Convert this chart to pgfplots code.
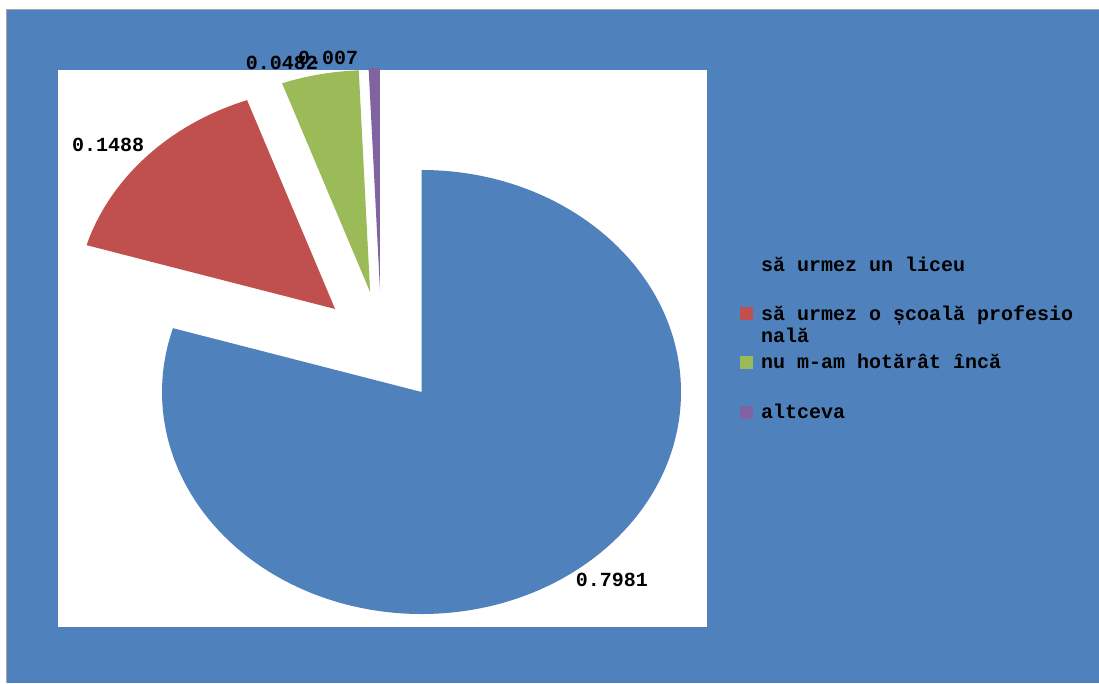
\documentclass[border=0pt]{standalone}
\usepackage{pgfplots}
\pgfplotsset{compat=1.18}
\usepackage{pgfplotstable}
\usepackage{fontspec}
\newfontfamily\chartfont{Liberation Mono}
\definecolor{pie0}{HTML}{4F81BD}
\definecolor{pie1}{HTML}{C0504D}
\definecolor{pie2}{HTML}{9BBB59}
\definecolor{pie3}{HTML}{8064A2}
\definecolor{chartbg}{HTML}{4F81BD}
\newcommand\lblfont{\chartfont\bfseries\fontsize{20}{22}\selectfont}

% value, explode offset (dx,dy) and label position, in axis units
\pgfplotstableread{
value  dx     dy    lx     ly
0.7981 0      0     0.734  -0.847
0.1488 -0.333 0.374 -1.208 1.113
0.0482 -0.198 0.450 -0.538 1.482
0.007  -0.160 0.459 -0.360 1.505
}\piedata

\newcommand\pv[2]{\csname pie#1#2\endcsname}
\def\pietotal{0}
\pgfplotsforeachungrouped \i in {0,...,3}{%
  \pgfplotstablegetelem{\i}{value}\of\piedata
  \pgfmathsetmacro\pietotal{\pietotal+\pgfplotsretval}%
}
\def\pieang{90}
\pgfplotsforeachungrouped \i in {0,...,3}{%
  \pgfplotstablegetelem{\i}{value}\of\piedata
  \expandafter\xdef\csname pieval\i\endcsname{\pgfplotsretval}%
  \pgfmathsetmacro\pienext{\pieang-360*\pgfplotsretval/\pietotal}%
  \expandafter\xdef\csname piesa\i\endcsname{\pieang}%
  \expandafter\xdef\csname pieea\i\endcsname{\pienext}%
  \let\pieang\pienext
  \pgfplotstablegetelem{\i}{dx}\of\piedata
  \expandafter\xdef\csname piedx\i\endcsname{\pgfplotsretval}%
  \pgfplotstablegetelem{\i}{dy}\of\piedata
  \expandafter\xdef\csname piedy\i\endcsname{\pgfplotsretval}%
  \pgfplotstablegetelem{\i}{lx}\of\piedata
  \expandafter\xdef\csname pielx\i\endcsname{\pgfplotsretval}%
  \pgfplotstablegetelem{\i}{ly}\of\piedata
  \expandafter\xdef\csname piely\i\endcsname{\pgfplotsretval}%
  \pgfmathsetmacro\tmp{\csname piedx\i\endcsname+cos(\csname piesa\i\endcsname)}%
  \expandafter\xdef\csname piesx\i\endcsname{\tmp}%
  \pgfmathsetmacro\tmp{\csname piedy\i\endcsname+sin(\csname piesa\i\endcsname)}%
  \expandafter\xdef\csname piesy\i\endcsname{\tmp}%
}

\begin{document}
\begin{tikzpicture}[x=1pt,y=1pt]
\fill[white] (0,0) rectangle (1099,683);
\fill[chartbg] (7,0) rectangle (1099,673);
\draw[gray!70, line width=1pt] (6.5,0) -- (6.5,673.5) -- (1099,673.5);
\fill[white] (58,56) rectangle (707,613);

\begin{axis}[
  at={(58pt,56pt)}, anchor=south west,
  width=649pt, height=557pt, scale only axis,
  xmin=-1.4008, xmax=1.1002, ymin=-1.0586, ymax=1.4505,
  hide axis, clip=false]
\pgfplotsinvokeforeach{0,...,3}{
  \fill[pie#1] (axis cs:\pv{dx}{#1},\pv{dy}{#1})
    -- (axis cs:\pv{sx}{#1},\pv{sy}{#1})
    arc[start angle=\pv{sa}{#1}, end angle=\pv{ea}{#1},
        x radius=259.5pt, y radius=222pt] -- cycle;
}
\pgfplotsinvokeforeach{0,...,3}{
  \node[font=\lblfont, inner sep=0pt] at (axis cs:\pv{lx}{#1},\pv{ly}{#1}) {\pv{val}{#1}};
}
\end{axis}

% legend
\fill[pie0] (740,410) rectangle (753,423);
\fill[pie1] (740,363) rectangle (753,376);
\fill[pie2] (740,314) rectangle (753,327);
\fill[pie3] (740,264) rectangle (753,277);
\node[anchor=base west, inner sep=0pt, font=\lblfont] at (761,411) {să urmez un liceu};
\node[anchor=base west, inner sep=0pt, font=\lblfont] at (761,362) {să urmez o școală profesio};
\node[anchor=base west, inner sep=0pt, font=\lblfont] at (761,340) {nală};
\node[anchor=base west, inner sep=0pt, font=\lblfont] at (761,314) {nu m-am hotărât încă};
\node[anchor=base west, inner sep=0pt, font=\lblfont] at (761,265) {altceva};

\pgfresetboundingbox
\useasboundingbox (0,0) rectangle (1099,683);
\end{tikzpicture}
\end{document}
